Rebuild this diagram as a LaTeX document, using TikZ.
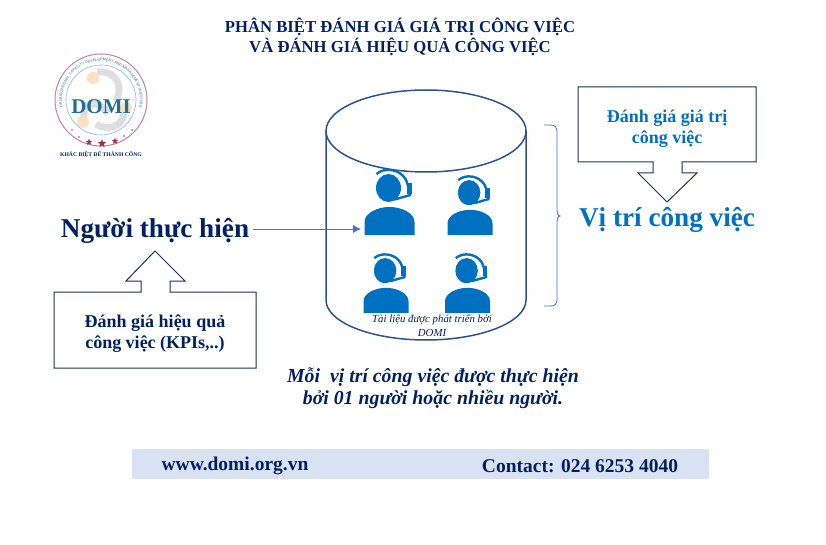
\documentclass[tikz,border=0pt]{standalone}
\usepackage{fontspec}
\setmainfont{Liberation Serif}
\setsansfont{Liberation Sans}
\usetikzlibrary{arrows.meta,decorations.text,shapes.geometric}

\definecolor{navy}{HTML}{002060}
\definecolor{domiblue}{HTML}{0070C0}
\definecolor{edgeblue}{HTML}{2F528F}
\definecolor{linkblue}{HTML}{4472C4}
\definecolor{darkedge}{HTML}{1F2F55}
\definecolor{barblue}{HTML}{D9E2F3}
\definecolor{logoblue}{HTML}{1F6E9C}
\definecolor{logored}{HTML}{9C2F50}

\tikzset{
  callout/.style={draw=darkedge,line width=1pt,fill=white,line join=miter},
  boxtext/.style={font=\bfseries\fontsize{18}{21.5}\selectfont,align=center,inner sep=0pt},
  bigtext/.style={font=\bfseries\fontsize{27.2}{30}\selectfont,inner sep=0pt},
  footertext/.style={font=\bfseries\fontsize{19.5}{22}\selectfont,text=navy,inner sep=0pt},
  logostar/.style={star,star points=5,star point ratio=2.4,fill=logored,inner sep=0pt},
  agent/.pic={
    \fill[domiblue] (-25,0) -- (-25,-13) .. controls (-25,-22) and (-12,-28) .. (0,-28)
      .. controls (12,-28) and (25,-22) .. (25,-13) -- (25,0) -- cycle;
    \fill[domiblue] (-1,-47) ellipse[x radius=12.5,y radius=14];
    \draw[white,line width=3pt] (3,-32) -- (21,-37);
    \draw[domiblue,line width=2.4pt] (-13,-61) .. controls (-5,-68) and (10,-66) .. (16,-56)
      .. controls (18,-52) and (19,-48) .. (19,-44);
    \fill[domiblue] (17,-52) rectangle (22,-41);
    \draw[domiblue,line width=2.4pt,line cap=round] (21,-40) -- (5,-35.5);
  }
}

\begin{document}
\begin{tikzpicture}[x=1pt,y=-1pt]
\useasboundingbox (0,0) rectangle (826,545);

\node[font=\bfseries\fontsize{16.7}{20}\selectfont,text=navy,align=center,inner sep=0pt] (title) at (400,37)
  {PHÂN BIỆT ĐÁNH GIÁ GIÁ TRỊ CÔNG VIỆC\\VÀ ĐÁNH GIÁ HIỆU QUẢ CÔNG VIỆC};

\draw[logored!60,line width=1pt] (101,100) circle[radius=46];
\draw[logoblue!50,line width=.6pt] (101,100) circle[radius=35];
\draw[black!13,line width=7pt] (97,72) .. controls (116,70) and (124,86) .. (116,101);
\draw[black!13,line width=7pt] (84,118) .. controls (82,102) and (98,98) .. (108,114);
\draw[black!13,line width=7pt] (124,112) .. controls (124,126) and (108,132) .. (96,124);
\fill[orange!25] (93,78) circle[radius=6];
\fill[orange!25] (83,122) circle[radius=6];
\fill[orange!25] (126,108) circle[radius=6];
\node[font=\bfseries\fontsize{21}{21}\selectfont,text=logoblue,inner sep=0pt] (domi) at (101,107) {DOMI};
\path[decorate,decoration={text along path,text align=center,
  text={|\sffamily\fontsize{3.7}{4}\selectfont\color{logoblue}|ORGANIZATIONAL CAPACITY DEVELOPMENT AND MANAGEMENT INSTITUTE}}]
  (63.9,112) arc[start angle=162,end angle=378,radius=39];
\node[logostar,minimum size=9pt] (star1) at (102,143.5) {};
\node[logostar,minimum size=7pt] (star2) at (89,142) {};
\node[logostar,minimum size=7pt] (star3) at (115,141) {};
\fill[logored!70] (79,137) circle[radius=1];
\fill[logored!70] (124,136) circle[radius=1];
\fill[logored!70] (72,130) circle[radius=1];
\fill[logored!70] (132,130) circle[radius=1];
\node[font=\bfseries\fontsize{5.65}{7}\selectfont,text=navy,inner sep=0pt] (slogan) at (101,155) {KHÁC BIỆT ĐỂ THÀNH CÔNG};

\draw[edgeblue,line width=1.5pt] (326,131) -- (326,300) arc[start angle=180,end angle=0,x radius=100,y radius=40] -- (526,131);
\draw[edgeblue,line width=1.5pt] (426,131) ellipse[x radius=100,y radius=41];

\path (389.5,235) pic {agent};
\path (470,235) pic[scale=.9] {agent};
\path (386,313) pic[scale=.9] {agent};
\path (467.5,313) pic[scale=.9] {agent};
\coordinate (agentleft) at (361,229);

\node[font=\itshape\fontsize{10.8}{14}\selectfont,text=navy,align=center,inner sep=0pt] (note) at (432,326)
  {Tài liệu được phát triển bởi\\DOMI};

\node[bigtext,text=navy] (nguoi) at (155,231) {Người thực hiện};
\node[bigtext,text=domiblue] (vitri) at (667,220) {Vị trí công việc};

\draw[linkblue,line width=.8pt,-{Latex[length=8pt,width=8pt]}] (nguoi.east) ++(4,-2) -- (agentleft);
\draw[linkblue,line width=.8pt] (544,125) -- (550,125) .. controls (555,125) and (557,127) .. (557,132) -- (557,209)
  .. controls (557,213) and (558,216) .. (560,216) .. controls (558,216) and (557,219) .. (557,223) -- (557,299)
  .. controls (557,304) and (555,306) .. (550,306) -- (544,306);

\draw[callout] (578,87) -- (756,87) -- (756,162) -- (682,162) -- (682,173) -- (697,173) -- (667,202)
  -- (638,173) -- (653,173) -- (653,162) -- (578,162) -- cycle;
\node[boxtext,text=domiblue] (valuebox) at (667,128.5) {Đánh giá giá trị\\công việc};

\draw[callout] (54,292) -- (141,292) -- (141,281) -- (126,281) -- (155,251) -- (185,281) -- (170,281)
  -- (170,292) -- (256,292) -- (256,368) -- (54,368) -- cycle;
\node[boxtext,text=navy] (kpibox) at (155,333.5) {Đánh giá hiệu quả\\công việc (KPIs,..)};

\node[font=\bfseries\itshape\fontsize{19.8}{22}\selectfont,text=navy,align=center,inner sep=0pt] (caption) at (433,388)
  {Mỗi~~vị trí công việc được thực hiện\\bởi 01 người hoặc nhiều người.};

\fill[barblue] (132,449) rectangle (709,479);
\node[footertext] (web) at (235,466) {www.domi.org.vn};
\node[footertext] (contact) at (580,466) {Contact: 024 6253 4040};
\end{tikzpicture}
\end{document}
